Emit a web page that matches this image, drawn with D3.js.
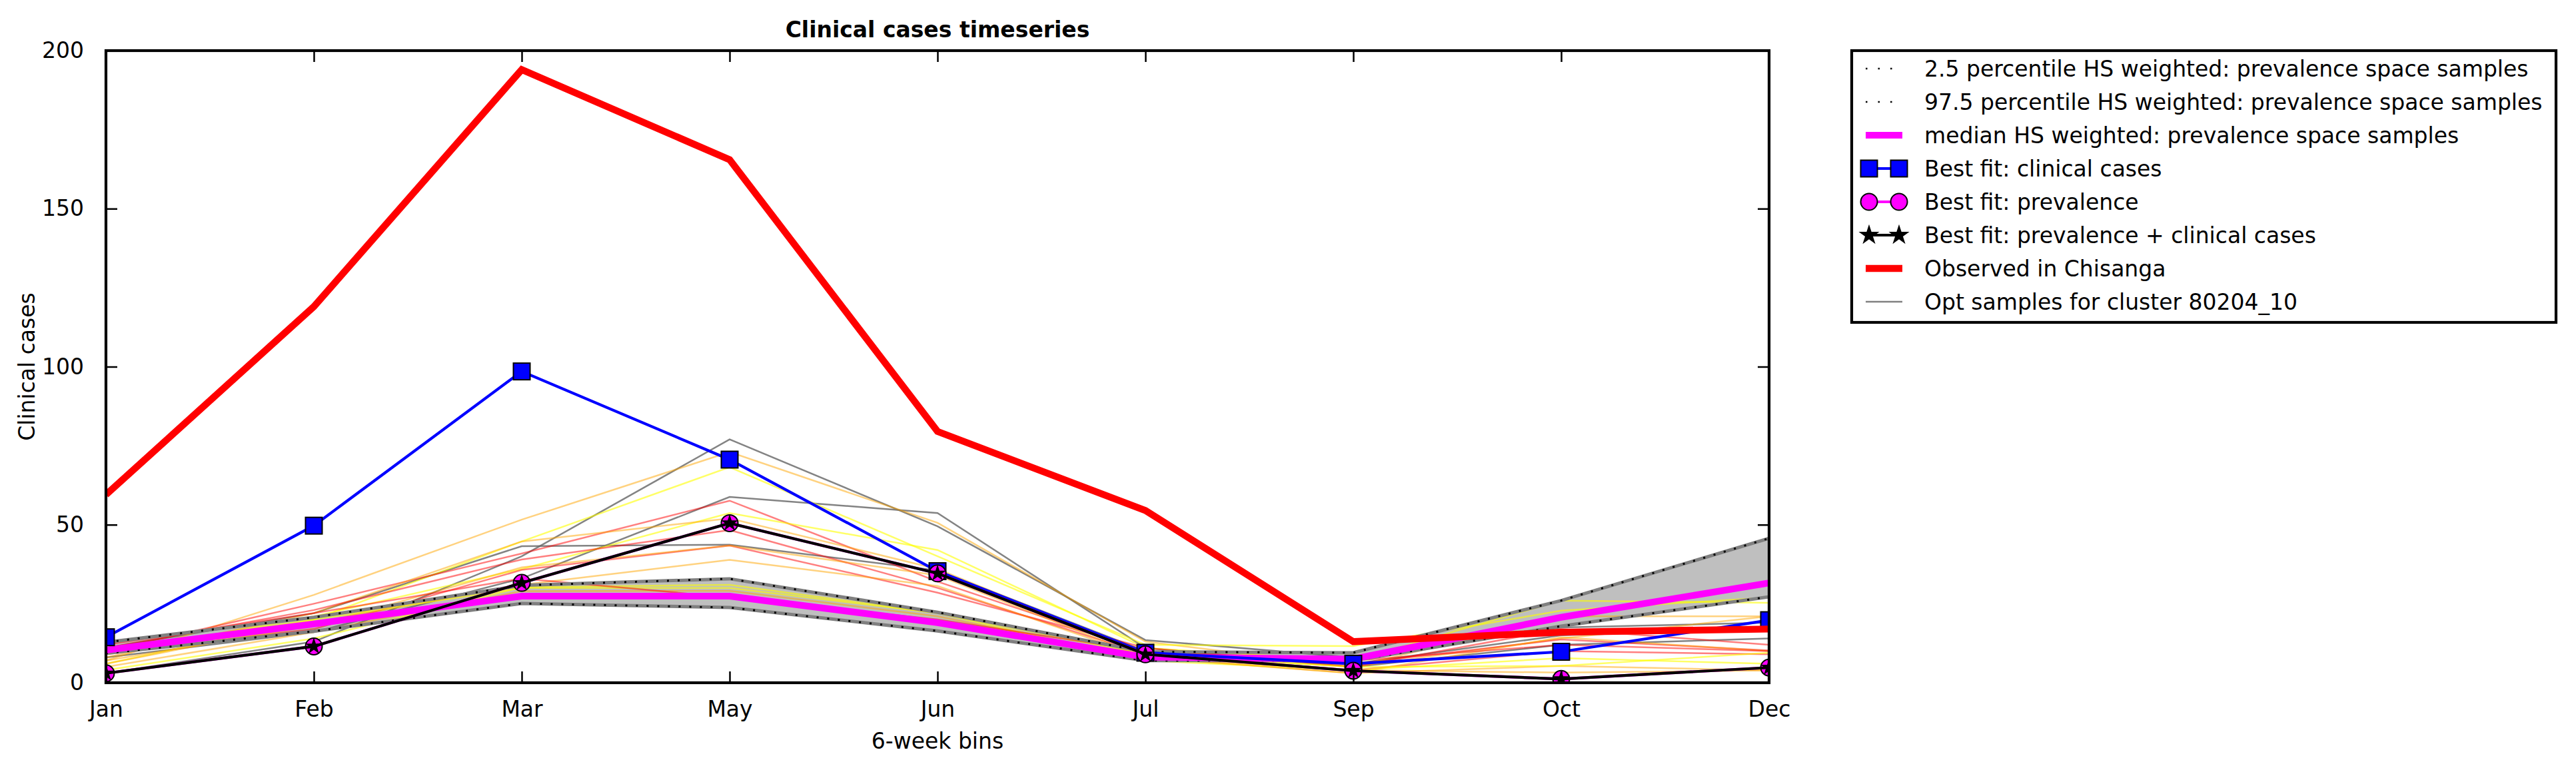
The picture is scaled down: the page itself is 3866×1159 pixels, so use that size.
<!DOCTYPE html>
<html>
<head>
<meta charset="utf-8">
<script src="https://cdn.jsdelivr.net/npm/d3@7"></script>
<style>
  body { margin: 0; background: #fff; }
  text { font-family: "DejaVu Sans", sans-serif; }
</style>
</head>
<body>
<svg id="chart" width="3866" height="1159"></svg>
<script>
// x bins and y ticks
var months = ["Jan", "Feb", "Mar", "May", "Jun", "Jul", "Sep", "Oct", "Dec"];
var yTicks = [0, 50, 100, 150, 200];

// series
var observed = [59.5, 119, 194, 165.5, 79.5, 54.5, 13, 16, 17];
var fitClinical = [14.4, 49.7, 98.5, 70.6, 35.3, 9.5, 6, 9.8, 19.8];
var fitPrevalence = [3, 11.5, 31.6, 50.5, 34.6, 9, 3.8, 1.2, 4.8];
var fitBoth = [3, 11.5, 31.6, 50.5, 34.6, 9, 3.8, 1.2, 4.8];
var median = [10.3, 18.6, 27.4, 27.4, 19, 8.1, 7.5, 20.7, 31.6];
var p025 = [9.3, 16.3, 25.1, 23.8, 16.4, 7, 7, 17.9, 27.2];
var p975 = [12.8, 20.7, 30.8, 32.9, 22.3, 9.8, 9.5, 26, 45.7];

// opt samples for the cluster
var sampleColors = ["gray", "gray", "gray", "orange", "yellow", "red", "yellow", "orange",
                    "red", "red", "orange", "orange", "yellow", "orange", "yellow", "red"];
var samples = [
  [3, 13, 40, 77, 49.5, 13.5, 8, 17.5, 19],
  [11, 22, 43.2, 43.7, 35.5, 10, 6, 15, 17],
  [8, 16, 33, 58.8, 53.7, 11, 5, 12, 14],
  [7, 27.8, 51.6, 73, 50.6, 13, 5, 14, 21],
  [6, 20, 44.7, 68.2, 40, 12, 11.6, 22.8, 27],
  [10, 25, 40.9, 57.6, 32, 10, 6, 13.7, 10.2],
  [9, 21, 36, 53.7, 42, 11, 7, 26, 25.3],
  [8, 22, 44.7, 52, 36, 9, 5, 21, 21],
  [11, 23, 39, 48.3, 30, 9, 4, 10, 9],
  [9, 17, 35.7, 43.4, 28.5, 11, 5, 17, 12],
  [7, 18, 36.5, 43.4, 34, 8, 3, 14.4, 10],
  [6, 19, 31, 38.9, 30.6, 8, 4, 3.2, 3.9],
  [4, 14, 30.2, 31, 22, 7, 4, 7.8, 6],
  [5, 16, 29, 29.1, 21, 8, 3, 5.3, 3.9],
  [10, 20, 30, 30, 22, 9, 5, 5.3, 9.5],
  [12, 22, 33, 27, 20, 10, 7, 12, 10]
];

var legendLabels = [
  "2.5 percentile HS weighted: prevalence space samples",
  "97.5 percentile HS weighted: prevalence space samples",
  "median HS weighted: prevalence space samples",
  "Best fit: clinical cases",
  "Best fit: prevalence",
  "Best fit: prevalence + clinical cases",
  "Observed in Chisanga",
  "Opt samples for cluster 80204_10"
];

var plotL = 159, plotR = 2655, plotT = 76, plotB = 1025;
var svg = d3.select("#chart");

var x = d3.scalePoint().domain(months).range([plotL, plotR]);
var y = d3.scaleLinear().domain([0, 200]).range([plotB, plotT]);

svg.append("defs").append("clipPath").attr("id", "clip")
  .append("rect").attr("x", plotL).attr("y", plotT)
  .attr("width", plotR - plotL).attr("height", plotB - plotT);

var plot = svg.append("g").attr("clip-path", "url(#clip)");

var line = d3.line().x((d, i) => x(months[i])).y(d => y(d));

// band between percentiles
var area = d3.area()
  .x((d, i) => x(months[i]))
  .y0((d, i) => y(p025[i]))
  .y1((d, i) => y(p975[i]));
plot.append("path").datum(months).attr("d", area).attr("fill", "#bfbfbf");

// sample lines
var colorMap = { gray: "rgba(100,100,100,0.8)", red: "rgba(255,0,0,0.5)",
                 orange: "rgba(255,165,0,0.5)", yellow: "rgba(255,255,0,0.6)" };
samples.forEach((s, k) => {
  plot.append("path").datum(s).attr("d", line)
    .attr("fill", "none").attr("stroke", colorMap[sampleColors[k]]).attr("stroke-width", 2.5);
});

// percentile lines
[p025, p975].forEach(p => {
  plot.append("path").datum(p).attr("d", line)
    .attr("fill", "none").attr("stroke", "#808080").attr("stroke-width", 5);
  plot.append("path").datum(p).attr("d", line)
    .attr("fill", "none").attr("stroke", "#000").attr("stroke-width", 3)
    .attr("stroke-dasharray", "3,13");
});

// median
plot.append("path").datum(median).attr("d", line)
  .attr("fill", "none").attr("stroke", "#ff00ff").attr("stroke-width", 10);

// best fit clinical cases
plot.append("path").datum(fitClinical).attr("d", line)
  .attr("fill", "none").attr("stroke", "#0000ff").attr("stroke-width", 4.2);
plot.selectAll(".sq").data(fitClinical).enter().append("rect")
  .attr("x", (d, i) => x(months[i]) - 12.5).attr("y", d => y(d) - 12.5)
  .attr("width", 25).attr("height", 25)
  .attr("fill", "#0000ff").attr("stroke", "#000").attr("stroke-width", 2);

// best fit prevalence
plot.append("path").datum(fitPrevalence).attr("d", line)
  .attr("fill", "none").attr("stroke", "#ff00ff").attr("stroke-width", 4.2);
plot.selectAll(".ci").data(fitPrevalence).enter().append("circle")
  .attr("cx", (d, i) => x(months[i])).attr("cy", d => y(d)).attr("r", 12.5)
  .attr("fill", "#ff00ff").attr("stroke", "#000").attr("stroke-width", 2);

// best fit prevalence + clinical cases
var star = d3.symbol().type(d3.symbolStar).size(200);
var starBig = d3.symbol().type(d3.symbolStar).size(300);
plot.append("path").datum(fitBoth).attr("d", line)
  .attr("fill", "none").attr("stroke", "#000").attr("stroke-width", 4.2);
plot.selectAll(".st").data(fitBoth).enter().append("path")
  .attr("d", star)
  .attr("transform", (d, i) => "translate(" + x(months[i]) + "," + y(d) + ")")
  .attr("fill", "#000");

// observed
plot.append("path").datum(observed).attr("d", line)
  .attr("fill", "none").attr("stroke", "#ff0000").attr("stroke-width", 10.4)
  .attr("stroke-linejoin", "miter");

// axes with inward ticks on all four sides
var fs = "33px";
svg.append("g").attr("transform", "translate(0," + plotB + ")")
  .call(d3.axisBottom(x).tickSize(-17).tickPadding(28))
  .call(g => g.select(".domain").remove());
svg.append("g").attr("transform", "translate(0," + plotT + ")")
  .call(d3.axisTop(x).tickSize(-17).tickFormat(""))
  .call(g => g.select(".domain").remove());
svg.append("g").attr("transform", "translate(" + plotL + ",0)")
  .call(d3.axisLeft(y).tickValues(yTicks).tickSize(-17).tickPadding(33))
  .call(g => g.select(".domain").remove());
svg.append("g").attr("transform", "translate(" + plotR + ",0)")
  .call(d3.axisRight(y).tickValues(yTicks).tickSize(-17).tickFormat(""))
  .call(g => g.select(".domain").remove());
svg.selectAll(".tick line").attr("stroke", "#000").attr("stroke-width", 2.5);
svg.selectAll(".tick text").attr("font-size", fs).attr("fill", "#000")
  .attr("font-family", "DejaVu Sans");

svg.append("rect").attr("x", plotL).attr("y", plotT)
  .attr("width", plotR - plotL).attr("height", plotB - plotT)
  .attr("fill", "none").attr("stroke", "#000").attr("stroke-width", 4.2);

// titles
svg.append("text").attr("x", (plotL + plotR) / 2).attr("y", 56)
  .attr("text-anchor", "middle").attr("font-size", fs).attr("font-weight", "bold")
  .text("Clinical cases timeseries");
svg.append("text").attr("x", (plotL + plotR) / 2).attr("y", 1124)
  .attr("text-anchor", "middle").attr("font-size", fs).text("6-week bins");
svg.append("text").attr("transform", "translate(52," + (plotT + plotB) / 2 + ") rotate(-90)")
  .attr("text-anchor", "middle").attr("font-size", fs).text("Clinical cases");

// legend
var lg = svg.append("g");
lg.append("rect").attr("x", 2779).attr("y", 76).attr("width", 1057).attr("height", 408)
  .attr("fill", "#fff").attr("stroke", "#000").attr("stroke-width", 4.2);
var hx0 = 2805, hx1 = 2850;
legendLabels.forEach((lab, k) => {
  var cy = 103 + k * 50;
  var g = lg.append("g");
  if (k < 2) {
    g.append("line").attr("x1", hx0 - 5).attr("x2", hx1 + 5).attr("y1", cy).attr("y2", cy)
      .attr("stroke", "#000").attr("stroke-width", 2.5).attr("stroke-dasharray", "2.5,16");
  } else if (k == 2) {
    g.append("line").attr("x1", hx0 - 5).attr("x2", hx1 + 5).attr("y1", cy).attr("y2", cy)
      .attr("stroke", "#ff00ff").attr("stroke-width", 10);
  } else if (k == 3) {
    g.append("line").attr("x1", hx0).attr("x2", hx1).attr("y1", cy).attr("y2", cy)
      .attr("stroke", "#0000ff").attr("stroke-width", 4.2);
    [hx0, hx1].forEach(cx => g.append("rect").attr("x", cx - 12.5).attr("y", cy - 12.5)
      .attr("width", 25).attr("height", 25).attr("fill", "#0000ff")
      .attr("stroke", "#000").attr("stroke-width", 2));
  } else if (k == 4) {
    g.append("line").attr("x1", hx0).attr("x2", hx1).attr("y1", cy).attr("y2", cy)
      .attr("stroke", "#ff00ff").attr("stroke-width", 4.2);
    [hx0, hx1].forEach(cx => g.append("circle").attr("cx", cx).attr("cy", cy).attr("r", 12.5)
      .attr("fill", "#ff00ff").attr("stroke", "#000").attr("stroke-width", 2));
  } else if (k == 5) {
    g.append("line").attr("x1", hx0).attr("x2", hx1).attr("y1", cy).attr("y2", cy)
      .attr("stroke", "#000").attr("stroke-width", 4.2);
    [hx0, hx1].forEach(cx => g.append("path").attr("d", starBig)
      .attr("transform", "translate(" + cx + "," + cy + ")").attr("fill", "#000"));
  } else if (k == 6) {
    g.append("line").attr("x1", hx0 - 5).attr("x2", hx1 + 5).attr("y1", cy).attr("y2", cy)
      .attr("stroke", "#ff0000").attr("stroke-width", 10.4);
  } else {
    g.append("line").attr("x1", hx0 - 5).attr("x2", hx1 + 5).attr("y1", cy).attr("y2", cy)
      .attr("stroke", "#808080").attr("stroke-width", 2.5);
  }
  g.append("text").attr("x", 2888).attr("y", cy).attr("dy", "0.35em")
    .attr("font-size", fs).text(lab);
});
</script>
</body>
</html>
